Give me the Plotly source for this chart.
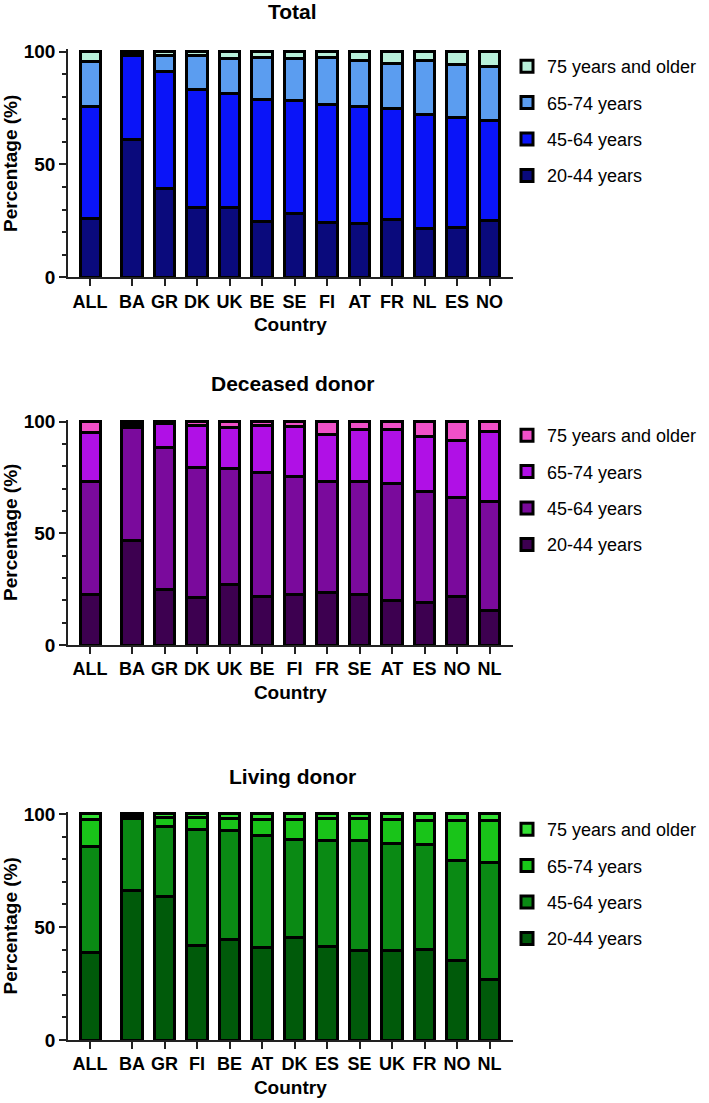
import plotly.graph_objects as go

age_groups = ["20-44 years", "45-64 years", "65-74 years", "75 years and older"]

# ---- Total ----
total_countries = ["ALL", "BA", "GR", "DK", "UK", "BE", "SE", "FI", "AT", "FR", "NL", "ES", "NO"]
total_20_44 = [26.1, 61.2, 39.4, 31.0, 31.0, 24.7, 28.4, 24.2, 23.9, 25.7, 21.7, 22.0, 25.0]
total_45_64 = [49.8, 36.9, 51.7, 52.3, 50.5, 54.2, 49.9, 52.6, 51.7, 48.9, 50.5, 48.9, 44.7]
total_65_74 = [19.8, 1.2, 7.4, 14.8, 15.5, 18.6, 18.7, 20.7, 20.7, 20.2, 24.1, 23.2, 23.7]
total_75p   = [4.3, 0.7, 1.5, 1.9, 3.0, 2.5, 3.0, 2.5, 3.7, 5.2, 3.7, 5.9, 6.6]

# ---- Deceased donor ----
dec_countries = ["ALL", "BA", "GR", "DK", "UK", "BE", "FI", "FR", "SE", "AT", "ES", "NO", "NL"]
dec_20_44 = [22.7, 46.6, 24.9, 21.2, 26.9, 21.9, 22.7, 23.4, 22.7, 20.1, 19.1, 21.9, 15.4]
dec_45_64 = [50.4, 50.7, 63.6, 58.2, 52.2, 55.4, 52.7, 49.7, 50.4, 52.3, 49.6, 44.2, 48.8]
dec_65_74 = [22.0, 1.5, 10.5, 19.1, 18.4, 21.2, 22.6, 21.2, 23.6, 24.2, 24.9, 25.7, 31.3]
dec_75p   = [4.9, 1.2, 1.0, 1.5, 2.5, 1.5, 2.0, 5.7, 3.3, 3.4, 6.4, 8.2, 4.5]

# ---- Living donor ----
liv_countries = ["ALL", "BA", "GR", "FI", "BE", "AT", "DK", "ES", "SE", "UK", "FR", "NO", "NL"]
liv_20_44 = [38.6, 66.1, 63.7, 42.0, 44.5, 41.0, 45.4, 41.3, 39.4, 39.5, 40.1, 35.0, 26.8]
liv_45_64 = [47.2, 31.9, 30.7, 51.2, 48.4, 49.3, 43.1, 46.9, 48.8, 47.5, 46.5, 44.6, 51.7]
liv_65_74 = [11.8, 1.0, 4.1, 5.3, 5.2, 7.3, 9.1, 9.6, 9.6, 10.6, 10.7, 17.7, 18.4]
liv_75p   = [2.4, 1.0, 1.5, 1.5, 1.9, 2.4, 2.4, 2.2, 2.2, 2.4, 2.7, 2.7, 3.1]

panel_titles = ["Total", "Deceased donor", "Living donor"]
x_positions = [0, 1.29, 2.29, 3.29, 4.29, 5.29, 6.29, 7.29, 8.29, 9.29, 10.29, 11.29, 12.29]

panels = [
    (total_countries, [total_20_44, total_45_64, total_65_74, total_75p],
     ["#0a0a7c", "#0a14f8", "#5b9df0", "#b8f0da"]),
    (dec_countries, [dec_20_44, dec_45_64, dec_65_74, dec_75p],
     ["#3d0050", "#7a0a9c", "#b010e6", "#f050c8"]),
    (liv_countries, [liv_20_44, liv_45_64, liv_65_74, liv_75p],
     ["#005a0a", "#0a8a14", "#19c419", "#33e033"]),
]

W, H = 709, 1103
# pixel geometry for each panel: (y of 0%, y of 101%)
panel_px = [(277.3, 49.4), (645.0, 419.5), (1040.0, 811.7)]
legend_top_px = [48, 417, 811]
title_px = [12, 383.5, 776]
x_left, x_right = 68, 512.6

fig = go.Figure()
FONT = "Liberation Sans, Arial, sans-serif"

for p, (countries, series, colors) in enumerate(panels):
    ax = "" if p == 0 else str(p + 1)
    leg = "legend" if p == 0 else "legend" + str(p + 1)
    for i, (name, vals, col) in enumerate(zip(age_groups, series, colors)):
        fig.add_trace(go.Bar(
            x=x_positions, y=vals, name=name,
            xaxis="x" + ax, yaxis="y" + ax,
            marker=dict(color=col, line=dict(color="black", width=3)),
            width=0.62, legend=leg, legendgroup=f"p{p}g{i}",
            legendrank=100 - i,
            hovertemplate="%{text}: %{y:.1f}%<extra>" + name + "</extra>",
            text=countries,
            textposition="none",
        ))
    y0, y1 = panel_px[p]
    axis_common = dict(showline=True, linecolor="#222", linewidth=1.5,
                       ticks="outside", tickcolor="#222", tickwidth=1.5, ticklen=7,
                       showgrid=False, zeroline=False, automargin=False)
    fig.update_layout(**{
        "xaxis" + ax: dict(
            domain=[x_left / W, x_right / W], range=[-0.68, 13.0],
            tickmode="array", tickvals=x_positions, ticktext=countries,
            tickfont=dict(family=FONT, size=18, color="black", weight="bold"),
            title=dict(text="Country", standoff=7,
                       font=dict(family=FONT, size=19, color="black", weight="bold")),
            anchor="y" + ax, fixedrange=True, **axis_common),
        "yaxis" + ax: dict(
            domain=[(H - y0) / H, (H - y1) / H], range=[0, 101],
            tickmode="linear", tick0=0, dtick=50,
            minor=dict(dtick=10, tick0=0, ticks="outside", ticklen=4,
                       tickcolor="#222", tickwidth=1.5),
            tickfont=dict(family=FONT, size=19, color="black", weight="bold"),
            title=dict(text="Percentage (%)", standoff=6,
                       font=dict(family=FONT, size=19, color="black", weight="bold")),
            anchor="x" + ax, fixedrange=True, **axis_common),
        leg: dict(x=507 / W, xanchor="left", y=(H - legend_top_px[p]) / H, yanchor="top",
                  font=dict(family=FONT, size=18, color="black"),
                  tracegroupgap=10, bgcolor="rgba(0,0,0,0)", itemwidth=30),
    })
    fig.add_annotation(text="<b>" + panel_titles[p] + "</b>", xref="paper", yref="paper",
                       x=292 / W, y=(H - title_px[p]) / H, xanchor="center", yanchor="middle",
                       showarrow=False, font=dict(family=FONT, size=21, color="black"))

fig.update_layout(
    width=W, height=H, barmode="stack", bargap=0.38,
    margin=dict(l=0, r=0, t=0, b=0, autoexpand=False),
    paper_bgcolor="white", plot_bgcolor="white",
    showlegend=True,
)

fig.write_html("out.html", config={"displayModeBar": False},
               post_script="document.body.style.margin='0';document.body.style.padding='0';")
